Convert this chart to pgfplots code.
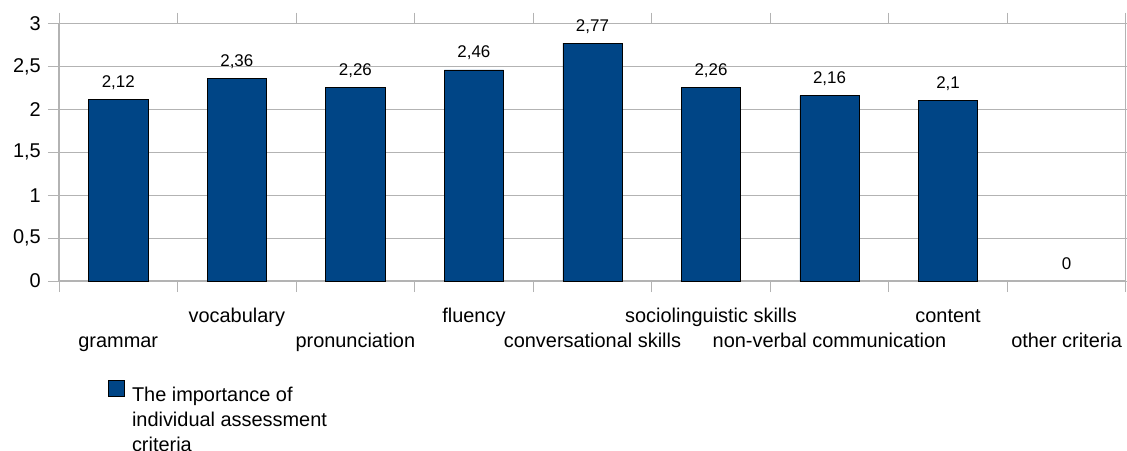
\documentclass[border=0pt]{standalone}
\usepackage{pgfplots}
\pgfplotsset{compat=1.18}
\usepackage{fontspec}
\setmainfont{Liberation Sans}
\definecolor{barblue}{HTML}{004586}
\definecolor{gridgray}{HTML}{B3B3B3}
\begin{document}
\begin{tikzpicture}
\useasboundingbox (-59bp,-170bp) rectangle (1068bp,281bp);
\begin{axis}[
  at={(0,0)}, anchor=south west,
  scale only axis, width=1067bp, height=257.5bp,
  xmin=-0.5, xmax=8.5, ymin=0, ymax=3,
  ytick={0,0.5,...,3},
  ymajorgrids, xmajorgrids=false,
  major grid style={gridgray, line width=0.9bp},
  axis line style={gridgray, line width=1.1bp},
  tick style={gridgray, line width=0.9bp},
  tick align=outside,
  major tick length=11bp,
  xtick={-0.5,0.5,...,8.5},
  xticklabels={{},{},{},{},{},{},{},{},{},{}},
  extra x ticks={0,1,2,3,4,5,6,7,8},
  extra x tick labels={
    \raisebox{-25bp}{grammar}, vocabulary,
    \raisebox{-25bp}{pronunciation}, fluency,
    \raisebox{-25bp}{conversational skills}, sociolinguistic skills,
    \raisebox{-25bp}{non-verbal communication}, content,
    \raisebox{-25bp}{other criteria}},
  extra x tick style={grid=none, major tick length=0pt,
    xticklabel style={anchor=base, yshift=-41bp, inner sep=0pt, font=\fontsize{20}{25}\selectfont}},
  yticklabel style={font=\fontsize{20}{24}\selectfont, anchor=east, inner sep=0pt, xshift=-7bp,
    /pgf/number format/use comma, /pgf/number format/assume math mode=true},
  /pgf/number format/use comma,
  /pgf/number format/assume math mode=true,
  ybar, bar width=0.5, bar shift=0pt,
  nodes near coords,
  nodes near coords style={font=\fontsize{17}{20}\selectfont, black, anchor=base, yshift=12bp, inner sep=0pt,
    /pgf/number format/use comma, /pgf/number format/assume math mode=true},
  legend style={at={(axis description cs:0.0453,-0.384)}, anchor=north west, draw=none, fill=none, inner sep=0pt,
    font=\fontsize{20}{25}\selectfont, nodes={inner sep=0pt}, column sep=8bp},
  legend cell align=left,
  legend image code/.code={\draw[fill=barblue, draw=black, line width=0.5bp] (0bp,0.9bp) rectangle (16bp,16.9bp);},
]
\addplot[fill=barblue, draw=black, line width=0.6bp] coordinates {
  (0,2.12) (1,2.36) (2,2.26) (3,2.46) (4,2.77) (5,2.26) (6,2.16) (7,2.10)
};
\addlegendentry{\raisebox{6.5bp}{\begin{tabular}[t]{@{}l@{}}The importance of\\individual assessment\\criteria\end{tabular}}}
\addplot[draw=none, fill=none, forget plot] coordinates {(8,0)};
\end{axis}
\end{tikzpicture}
\end{document}
